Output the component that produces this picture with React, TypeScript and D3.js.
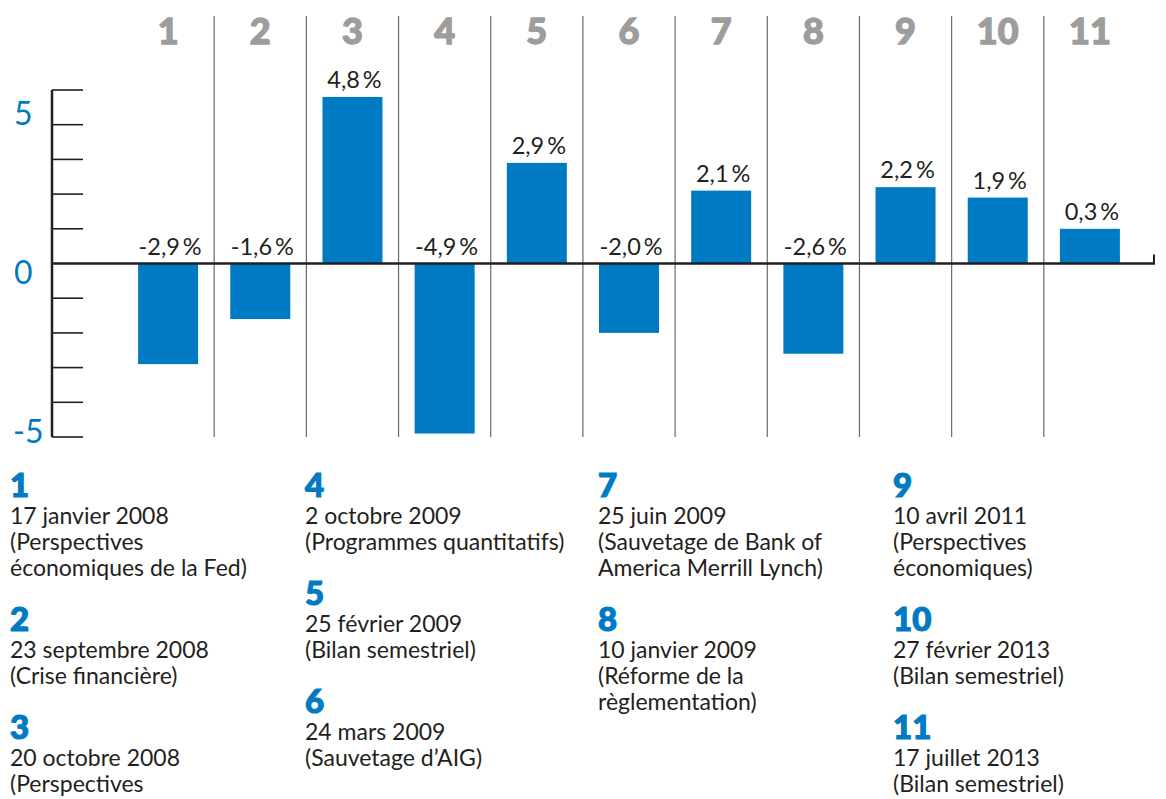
import React from 'react';
import * as d3 from 'd3';

// printed changes (labels) and the bar heights as drawn in the original
const events = ['1', '2', '3', '4', '5', '6', '7', '8', '9', '10', '11'];
const valueLabels = ['-2,9', '-1,6', '4,8', '-4,9', '2,9', '-2,0', '2,1', '-2,6', '2,2', '1,9', '0,3'];
const barValues = [-2.9, -1.6, 4.8, -4.9, 2.9, -2.0, 2.1, -2.6, 2.2, 1.9, 1.0];
const yTicks = [-5, -4, -3, -2, -1, 0, 1, 2, 3, 4, 5];
const yLabels = [5, 0, -5];

const eventLines = [
  ['17 janvier 2008', '(Perspectives', 'économiques de la Fed)'],
  ['23 septembre 2008', '(Crise financière)'],
  ['20 octobre 2008', '(Perspectives'],
  ['2 octobre 2009', '(Programmes quantitatifs)'],
  ['25 février 2009', '(Bilan semestriel)'],
  ['24 mars 2009', '(Sauvetage d’AIG)'],
  ['25 juin 2009', '(Sauvetage de Bank of', 'America Merrill Lynch)'],
  ['10 janvier 2009', '(Réforme de la', 'règlementation)'],
  ['10 avril 2011', '(Perspectives', 'économiques)'],
  ['27 février 2013', '(Bilan semestriel)'],
  ['17 juillet 2013', '(Bilan semestriel)'],
];
const legendColumns = [[0, 1, 2], [3, 4, 5], [6, 7], [8, 9, 10]];

const W = 1166;
const H = 799;
const BLUE = '#007bc3';
const INK = '#231f20';
const FONT = 'Lato, "Open Sans", sans-serif';

export default function App() {
  const x = d3.scaleBand<string>().domain(events).range([122, 1136]).paddingInner(0).paddingOuter(0);
  const y = d3.scaleLinear().domain([-5, 5]).range([437, 90]);
  const barW = 60;
  const axisX = 52;

  // offsets of the blue axis labels, as placed in the original
  const yLabelDy: Record<string, number> = { '5': 35, '0': 20, '-5': 6 };

  const legendX = [10, 305, 598, 893];
  const legendItems: { i: number; x: number; y: number }[] = [];
  legendColumns.forEach((col, c) => {
    let base = 497;
    col.forEach((i) => {
      legendItems.push({ i, x: legendX[c], y: base });
      base += 27 + (eventLines[i].length - 1) * 26 + 55;
    });
  });

  return (
    <svg
      width={W}
      height={H}
      style={{ position: 'absolute', left: 0, top: 0, background: '#fff' }}
      fontFamily={FONT}
    >
      {/* column separators */}
      {events.slice(1).map((e) => (
        <line key={'sep' + e} x1={x(e)!} x2={x(e)!} y1={16} y2={y(-5)} stroke="#6b6b6b" strokeWidth={1.2} />
      ))}

      {/* column numbers */}
      {events.map((e) => (
        <text
          key={'h' + e}
          x={x(e)! + x.bandwidth() / 2}
          y={44}
          textAnchor="middle"
          fontSize={36}
          fontWeight={900}
          fill="#9d9d9d"
          stroke="#9d9d9d"
          strokeWidth={1.3}
        >
          {e}
        </text>
      ))}

      {/* bars */}
      {events.map((e, i) => {
        const v = barValues[i];
        const cx = x(e)! + x.bandwidth() / 2;
        return (
          <rect
            key={'b' + e}
            x={cx - barW / 2}
            y={Math.min(y(v), y(0))}
            width={barW}
            height={Math.abs(y(v) - y(0))}
            fill={BLUE}
          />
        );
      })}

      {/* y axis */}
      <line x1={axisX} x2={axisX} y1={y(5)} y2={y(-5)} stroke={INK} strokeWidth={2.5} />
      {yTicks.filter((t) => t !== 0).map((t) => (
        <line key={'t' + t} x1={axisX} x2={83} y1={y(t)} y2={y(t)} stroke={INK} strokeWidth={1.6} />
      ))}
      {yLabels.map((t) => (
        <text key={'yl' + t} x={t < 0 ? 13 : 14} y={y(t) + yLabelDy[String(t)]} fontSize={32} fill={BLUE}>
          {t}
        </text>
      ))}

      {/* zero line */}
      <line x1={axisX} x2={1155} y1={y(0)} y2={y(0)} stroke={INK} strokeWidth={2.5} />
      <line x1={1154} x2={1154} y1={y(0) - 9} y2={y(0)} stroke={INK} strokeWidth={2} />

      {/* value labels */}
      {events.map((e, i) => {
        const v = barValues[i];
        const cx = x(e)! + x.bandwidth() / 2;
        const ly = (v > 0 ? y(v) : y(0)) - 9;
        return (
          <text key={'v' + e} x={cx + 2} y={ly} textAnchor="middle" fontSize={23.5} fill={INK}>
            {valueLabels[i] + '\u2009%'}
          </text>
        );
      })}

      {/* legend */}
      {legendItems.map(({ i, x: lx, y: ly }) => (
        <g key={'lg' + i}>
          <text x={lx} y={ly} fontSize={33} fontWeight={900} fill={BLUE} stroke={BLUE} strokeWidth={1.2}>
            {events[i]}
          </text>
          {eventLines[i].map((t, k) => (
            <text key={k} x={lx} y={ly + 27 + k * 26} fontSize={23} fill={INK}>
              {t}
            </text>
          ))}
        </g>
      ))}
    </svg>
  );
}
